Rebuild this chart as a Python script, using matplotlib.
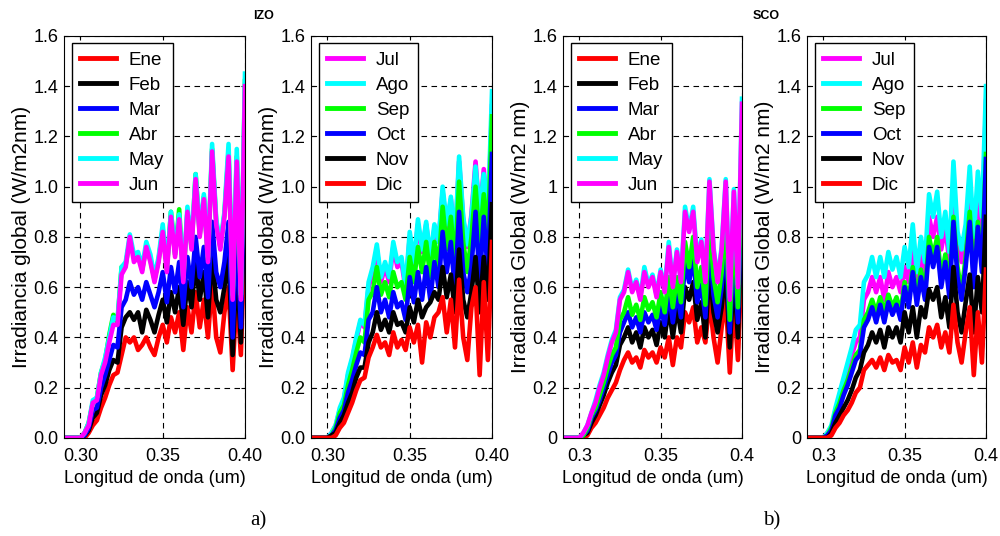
import numpy as np
import matplotlib
matplotlib.use("Agg")
import matplotlib.pyplot as plt

plt.rcParams.update({"font.family": ["Liberation Sans", "DejaVu Sans"], "font.size": 13})

# longitud de onda (um)
wl = [0.29, 0.2925, 0.295, 0.2975, 0.30,
      0.3025, 0.305, 0.3075, 0.31, 0.3125, 0.315, 0.3175, 0.32, 0.3225, 0.325,
      0.3275, 0.33, 0.3325, 0.335, 0.3375, 0.34, 0.3425, 0.345, 0.3475, 0.35,
      0.3525, 0.355, 0.3575, 0.36, 0.3625, 0.365, 0.3675, 0.37, 0.3725, 0.375,
      0.3775, 0.38, 0.3825, 0.385, 0.3875, 0.39, 0.3925, 0.395, 0.3975, 0.40]
Z = [0.0, 0.0, 0.0, 0.0, 0.0]

# ---- IZO enero-junio ----
izo_ene = Z + [0.00, 0.02, 0.05, 0.07, 0.12, 0.16, 0.21, 0.25, 0.26, 0.33, 0.40, 0.38, 0.40, 0.35, 0.37, 0.40, 0.36, 0.33, 0.40, 0.45, 0.38, 0.48, 0.42, 0.50, 0.35, 0.52, 0.42, 0.58, 0.44, 0.55, 0.40, 0.62, 0.40, 0.34, 0.50, 0.60, 0.27, 0.58, 0.33, 0.85]
izo_feb = Z + [0.01, 0.03, 0.08, 0.10, 0.17, 0.21, 0.27, 0.31, 0.30, 0.44, 0.48, 0.50, 0.47, 0.50, 0.42, 0.51, 0.47, 0.42, 0.49, 0.55, 0.46, 0.58, 0.50, 0.60, 0.45, 0.62, 0.52, 0.70, 0.55, 0.66, 0.48, 0.73, 0.55, 0.50, 0.60, 0.72, 0.33, 0.70, 0.38, 1.05]
izo_mar = Z + [0.01, 0.04, 0.11, 0.12, 0.20, 0.25, 0.31, 0.37, 0.36, 0.52, 0.55, 0.62, 0.57, 0.60, 0.55, 0.62, 0.57, 0.52, 0.58, 0.66, 0.54, 0.68, 0.58, 0.70, 0.52, 0.72, 0.60, 0.80, 0.64, 0.76, 0.56, 0.86, 0.66, 0.60, 0.70, 0.86, 0.40, 0.84, 0.44, 1.25]
izo_abr = Z + [0.02, 0.06, 0.14, 0.16, 0.26, 0.31, 0.41, 0.49, 0.46, 0.68, 0.69, 0.79, 0.72, 0.73, 0.67, 0.76, 0.71, 0.63, 0.71, 0.83, 0.67, 0.90, 0.73, 0.91, 0.63, 0.90, 0.76, 1.05, 0.81, 0.96, 0.71, 1.15, 0.86, 0.76, 0.89, 1.14, 0.56, 1.12, 0.56, 1.42]
izo_may = Z + [0.02, 0.06, 0.15, 0.16, 0.26, 0.32, 0.40, 0.48, 0.47, 0.68, 0.70, 0.81, 0.73, 0.74, 0.68, 0.78, 0.73, 0.64, 0.72, 0.85, 0.68, 0.90, 0.74, 0.89, 0.64, 0.92, 0.77, 1.05, 0.82, 0.97, 0.72, 1.17, 0.87, 0.77, 0.90, 1.17, 0.57, 1.15, 0.57, 1.45]
izo_jun = Z + [0.02, 0.05, 0.14, 0.15, 0.25, 0.30, 0.38, 0.45, 0.45, 0.65, 0.68, 0.80, 0.70, 0.72, 0.66, 0.76, 0.70, 0.62, 0.70, 0.82, 0.66, 0.88, 0.72, 0.87, 0.62, 0.90, 0.75, 1.03, 0.80, 0.95, 0.70, 1.14, 0.85, 0.75, 0.88, 1.12, 0.55, 1.10, 0.55, 1.40]

# ---- IZO julio-diciembre ----
izo_jul = Z + [0.02, 0.05, 0.11, 0.15, 0.25, 0.31, 0.39, 0.46, 0.44, 0.60, 0.66, 0.75, 0.62, 0.68, 0.62, 0.76, 0.68, 0.70, 0.59, 0.80, 0.69, 0.85, 0.74, 0.85, 0.71, 0.83, 0.78, 0.98, 0.83, 0.95, 0.77, 1.10, 0.87, 0.76, 0.89, 1.10, 0.88, 1.07, 0.86, 1.32]
izo_ago = Z + [0.02, 0.05, 0.12, 0.16, 0.26, 0.32, 0.40, 0.47, 0.45, 0.62, 0.68, 0.77, 0.64, 0.70, 0.64, 0.78, 0.70, 0.72, 0.60, 0.82, 0.70, 0.87, 0.75, 0.86, 0.72, 0.85, 0.78, 1.00, 0.85, 0.96, 0.78, 1.12, 0.88, 0.77, 0.88, 1.08, 0.90, 1.05, 0.88, 1.38]
izo_sep = Z + [0.01, 0.04, 0.10, 0.13, 0.21, 0.27, 0.34, 0.40, 0.38, 0.55, 0.58, 0.68, 0.57, 0.62, 0.56, 0.66, 0.60, 0.62, 0.55, 0.72, 0.62, 0.76, 0.66, 0.78, 0.64, 0.78, 0.68, 0.92, 0.75, 0.88, 0.68, 1.02, 0.78, 0.66, 0.80, 1.00, 0.78, 0.97, 0.80, 1.28]
izo_oct = Z + [0.01, 0.03, 0.08, 0.11, 0.18, 0.23, 0.29, 0.34, 0.33, 0.47, 0.50, 0.60, 0.50, 0.55, 0.48, 0.58, 0.52, 0.54, 0.47, 0.64, 0.54, 0.66, 0.55, 0.68, 0.55, 0.70, 0.60, 0.82, 0.66, 0.78, 0.58, 0.90, 0.66, 0.58, 0.68, 0.90, 0.62, 0.88, 0.65, 1.13]
izo_nov = Z + [0.01, 0.02, 0.06, 0.09, 0.14, 0.18, 0.24, 0.28, 0.28, 0.38, 0.42, 0.50, 0.43, 0.47, 0.42, 0.50, 0.45, 0.46, 0.42, 0.52, 0.46, 0.55, 0.48, 0.52, 0.54, 0.58, 0.55, 0.68, 0.56, 0.65, 0.50, 0.75, 0.55, 0.48, 0.58, 0.72, 0.50, 0.72, 0.55, 0.93]
izo_dic = Z + [0.00, 0.01, 0.04, 0.06, 0.10, 0.14, 0.19, 0.23, 0.24, 0.32, 0.36, 0.41, 0.36, 0.38, 0.33, 0.42, 0.36, 0.39, 0.35, 0.44, 0.38, 0.45, 0.30, 0.46, 0.40, 0.48, 0.50, 0.56, 0.42, 0.55, 0.36, 0.63, 0.40, 0.31, 0.52, 0.60, 0.25, 0.62, 0.31, 0.78]

# ---- SCO enero-junio ----
sco_ene = Z + [0.00, 0.01, 0.04, 0.06, 0.09, 0.12, 0.16, 0.19, 0.22, 0.27, 0.31, 0.34, 0.30, 0.32, 0.28, 0.35, 0.32, 0.34, 0.30, 0.36, 0.32, 0.40, 0.29, 0.40, 0.36, 0.50, 0.46, 0.52, 0.38, 0.44, 0.38, 0.55, 0.40, 0.30, 0.44, 0.56, 0.26, 0.56, 0.31, 0.75]
sco_feb = Z + [0.01, 0.02, 0.06, 0.09, 0.13, 0.17, 0.22, 0.26, 0.29, 0.37, 0.40, 0.44, 0.38, 0.42, 0.36, 0.44, 0.40, 0.43, 0.37, 0.46, 0.40, 0.52, 0.40, 0.52, 0.42, 0.60, 0.55, 0.62, 0.47, 0.54, 0.40, 0.68, 0.50, 0.42, 0.52, 0.68, 0.36, 0.66, 0.40, 0.92]
sco_mar = Z + [0.01, 0.03, 0.08, 0.11, 0.15, 0.20, 0.25, 0.30, 0.33, 0.42, 0.46, 0.50, 0.44, 0.48, 0.42, 0.50, 0.46, 0.49, 0.43, 0.52, 0.45, 0.58, 0.46, 0.58, 0.48, 0.70, 0.62, 0.72, 0.54, 0.61, 0.48, 0.78, 0.57, 0.48, 0.60, 0.78, 0.42, 0.76, 0.46, 1.06]
sco_abr = Z + [0.01, 0.04, 0.09, 0.12, 0.17, 0.22, 0.28, 0.33, 0.36, 0.47, 0.50, 0.56, 0.49, 0.53, 0.47, 0.56, 0.51, 0.54, 0.48, 0.58, 0.50, 0.64, 0.52, 0.64, 0.54, 0.78, 0.68, 0.80, 0.60, 0.68, 0.53, 0.87, 0.64, 0.54, 0.66, 0.88, 0.47, 0.85, 0.52, 1.18]
sco_may = Z + [0.02, 0.05, 0.10, 0.15, 0.21, 0.26, 0.33, 0.39, 0.43, 0.56, 0.59, 0.67, 0.59, 0.63, 0.56, 0.68, 0.61, 0.65, 0.57, 0.67, 0.59, 0.78, 0.61, 0.75, 0.63, 0.92, 0.83, 0.92, 0.71, 0.79, 0.63, 1.03, 0.76, 0.63, 0.76, 1.03, 0.56, 0.99, 0.61, 1.35]
sco_jun = Z + [0.02, 0.05, 0.10, 0.14, 0.20, 0.25, 0.32, 0.38, 0.42, 0.55, 0.58, 0.66, 0.58, 0.62, 0.55, 0.66, 0.60, 0.64, 0.56, 0.66, 0.58, 0.76, 0.60, 0.74, 0.62, 0.90, 0.82, 0.90, 0.70, 0.78, 0.62, 1.02, 0.75, 0.62, 0.75, 1.02, 0.55, 0.98, 0.60, 1.33]

# ---- SCO julio-diciembre ----
sco_jul = Z + [0.02, 0.04, 0.11, 0.16, 0.22, 0.27, 0.33, 0.38, 0.40, 0.55, 0.58, 0.64, 0.58, 0.64, 0.55, 0.66, 0.60, 0.64, 0.58, 0.68, 0.62, 0.76, 0.60, 0.73, 0.64, 0.88, 0.80, 0.88, 0.75, 0.84, 0.70, 1.00, 0.78, 0.70, 0.80, 0.98, 0.74, 0.96, 0.80, 1.34]
sco_ago = Z + [0.02, 0.05, 0.12, 0.18, 0.24, 0.30, 0.36, 0.43, 0.45, 0.62, 0.65, 0.72, 0.64, 0.72, 0.64, 0.74, 0.67, 0.72, 0.64, 0.76, 0.68, 0.85, 0.66, 0.80, 0.70, 0.97, 0.88, 0.98, 0.80, 0.90, 0.74, 1.10, 0.82, 0.75, 0.85, 1.08, 0.80, 1.06, 0.88, 1.40]
sco_sep = Z + [0.01, 0.04, 0.10, 0.14, 0.19, 0.23, 0.28, 0.33, 0.35, 0.47, 0.50, 0.55, 0.50, 0.56, 0.50, 0.57, 0.52, 0.56, 0.50, 0.62, 0.55, 0.68, 0.56, 0.67, 0.58, 0.80, 0.72, 0.80, 0.64, 0.73, 0.60, 0.88, 0.68, 0.58, 0.72, 0.90, 0.64, 0.86, 0.70, 1.13]
sco_oct = Z + [0.01, 0.03, 0.09, 0.12, 0.17, 0.21, 0.26, 0.31, 0.33, 0.44, 0.47, 0.52, 0.46, 0.53, 0.46, 0.54, 0.49, 0.53, 0.47, 0.60, 0.52, 0.66, 0.53, 0.64, 0.55, 0.76, 0.68, 0.76, 0.60, 0.70, 0.56, 0.86, 0.64, 0.55, 0.68, 0.86, 0.60, 0.84, 0.66, 1.11]
sco_nov = Z + [0.00, 0.02, 0.06, 0.09, 0.12, 0.15, 0.19, 0.24, 0.27, 0.34, 0.37, 0.42, 0.38, 0.43, 0.36, 0.44, 0.40, 0.44, 0.38, 0.50, 0.42, 0.52, 0.40, 0.52, 0.48, 0.59, 0.55, 0.60, 0.48, 0.56, 0.44, 0.68, 0.50, 0.42, 0.54, 0.65, 0.42, 0.64, 0.50, 0.88]
sco_dic = Z + [0.00, 0.01, 0.04, 0.06, 0.09, 0.11, 0.14, 0.18, 0.20, 0.27, 0.29, 0.31, 0.28, 0.32, 0.27, 0.33, 0.30, 0.31, 0.27, 0.36, 0.30, 0.38, 0.28, 0.37, 0.34, 0.44, 0.40, 0.45, 0.36, 0.42, 0.34, 0.53, 0.38, 0.30, 0.42, 0.52, 0.25, 0.50, 0.30, 0.67]

meses1 = ["Ene", "Feb", "Mar", "Abr", "May", "Jun"]
meses2 = ["Jul", "Ago", "Sep", "Oct", "Nov", "Dic"]
col1 = ["#ff0000", "#000000", "#0000ff", "#00ff00", "#00ffff", "#ff00ff"]
col2 = ["#ff00ff", "#00ffff", "#00ff00", "#0000ff", "#000000", "#ff0000"]

paneles = [
    ([izo_ene, izo_feb, izo_mar, izo_abr, izo_may, izo_jun], meses1, col1, "Irradiancia global (W/m2nm)", "%.1f", "%.2f"),
    ([izo_jul, izo_ago, izo_sep, izo_oct, izo_nov, izo_dic], meses2, col2, "Irradiancia global (W/m2nm)", "%.1f", "%.2f"),
    ([sco_ene, sco_feb, sco_mar, sco_abr, sco_may, sco_jun], meses1, col1, "Irradiancia Global (W/m2 nm)", "%g", "%g"),
    ([sco_jul, sco_ago, sco_sep, sco_oct, sco_nov, sco_dic], meses2, col2, "Irradiancia Global (W/m2 nm)", "%g", "%g"),
]
lefts = [0.064, 0.311, 0.563, 0.807]
widths = [0.181, 0.181, 0.179, 0.179]
yt = np.arange(0, 1.61, 0.2)
xt = [0.30, 0.35, 0.40]

fig = plt.figure(figsize=(10, 5.36), dpi=100)
for (series, meses, cols, ylab, yfmt, xfmt), l, w in zip(paneles, lefts, widths):
    ax = fig.add_axes([l, 0.183, w, 0.750])
    for s, m, c in zip(series, meses, cols):
        ax.plot(wl, s, color=c, lw=3.3, label=m)
    ax.set_xlim(0.29, 0.40); ax.set_ylim(0, 1.6)
    ax.set_xticks(xt); ax.set_yticks(yt)
    ax.set_xticklabels([xfmt % v for v in xt])
    ax.set_yticklabels([yfmt % round(v, 1) for v in yt])
    ax.grid(True, color="k", ls=(0, (5, 4)), lw=0.8)
    ax.tick_params(direction="in", length=3, top=True, right=True, labelsize=13)
    ax.tick_params(axis="x", pad=7)
    ax.tick_params(axis="y", pad=4)
    ax.set_xlabel("Longitud de onda (um)", fontsize=13, labelpad=4)
    ax.set_ylabel(ylab, fontsize=15, labelpad=2)
    lg = ax.legend(loc="upper left", fancybox=False, edgecolor="k", framealpha=1,
                   fontsize=13.5, handlelength=1.9, labelspacing=0.42,
                   borderaxespad=0.4, borderpad=0.45, handletextpad=0.7)
    lg.get_frame().set_linewidth(1.0)
    for h in lg.get_lines():
        h.set_linewidth(3.5)

fig.text(0.253, 0.965, "IZO", fontsize=9, fontweight="bold")
fig.text(0.753, 0.965, "SCO", fontsize=9, fontweight="bold")
fig.text(0.250, 0.02, "a)", fontsize=15, family=["Liberation Serif", "DejaVu Serif"])
fig.text(0.763, 0.02, "b)", fontsize=15, family=["Liberation Serif", "DejaVu Serif"])
fig.savefig("out.png", dpi=100)
